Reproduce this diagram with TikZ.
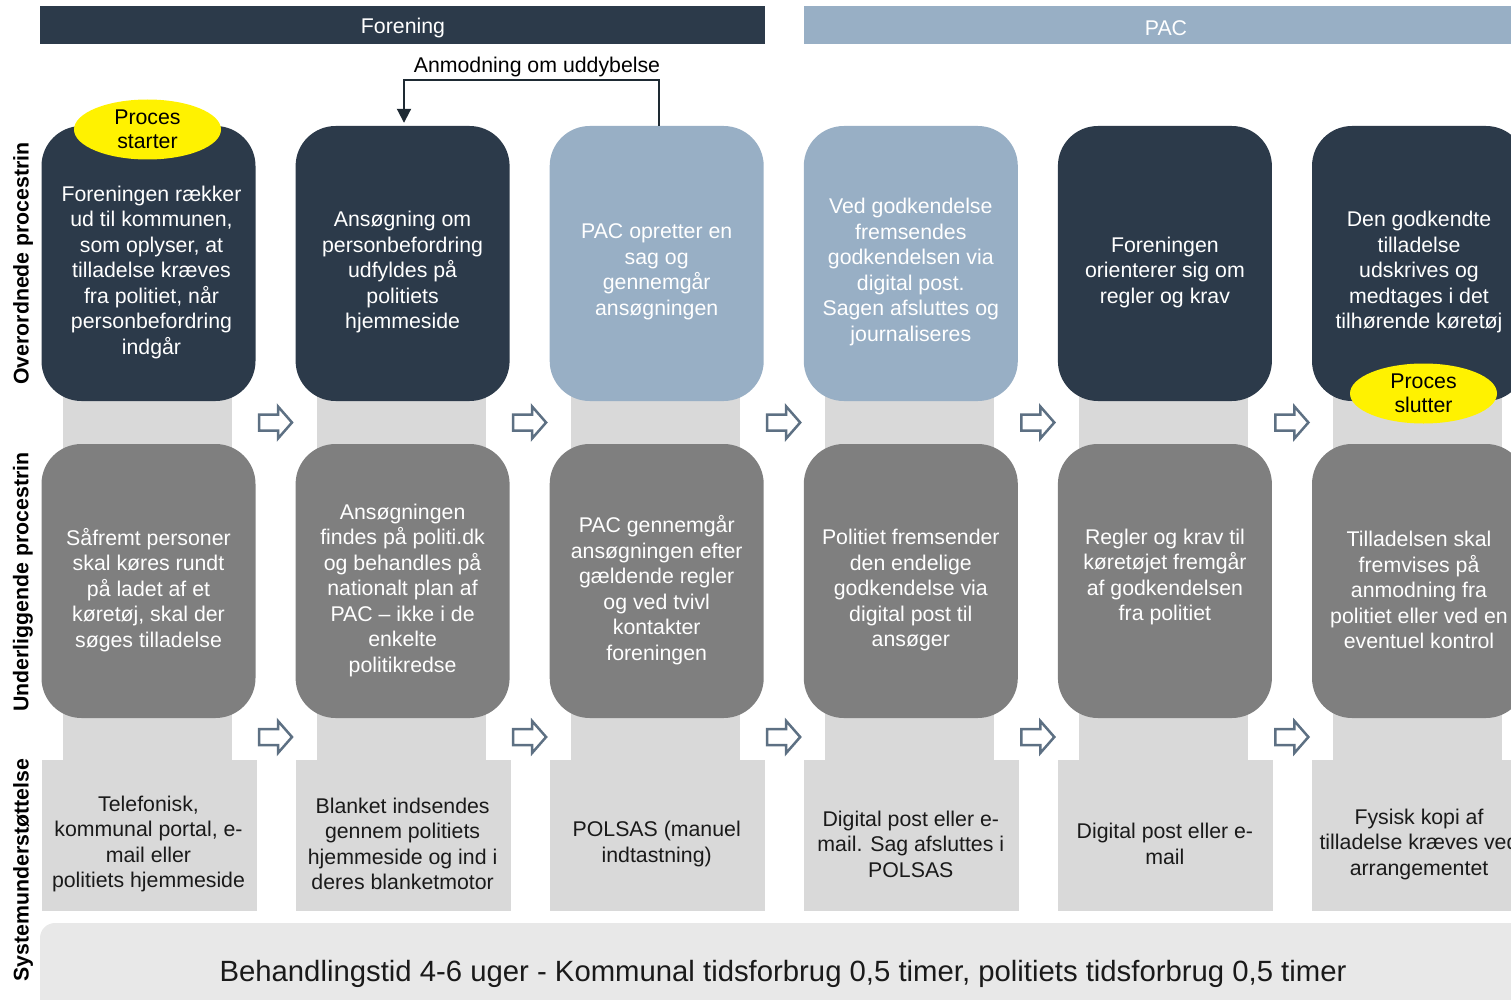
\documentclass[tikz,border=0pt]{standalone}
\usepackage{fontspec}
\setmainfont{Liberation Sans}
\usetikzlibrary{arrows.meta,shapes.geometric,calc}
\definecolor{navy}{RGB}{44,58,74}
\definecolor{lblue}{RGB}{152,175,197}
\definecolor{midgray}{RGB}{127,127,127}
\definecolor{lgray}{RGB}{217,217,217}
\definecolor{bargray}{RGB}{232,232,232}
\definecolor{arrowc}{RGB}{93,112,131}
\definecolor{txtdark}{RGB}{26,26,26}
\definecolor{linec}{RGB}{30,42,51}
\begin{document}
\begin{tikzpicture}[x=1pt,y=-1pt,
  boxbase/.style={rounded corners=40pt, minimum width=214pt, inner sep=0pt},
  topbox/.style={boxbase, minimum height=275pt, fill=navy},
  topboxl/.style={boxbase, minimum height=275pt, fill=lblue},
  midbox/.style={boxbase, minimum height=274pt, fill=midgray},
  botbox/.style={minimum width=215pt, minimum height=151pt, fill=lgray, inner sep=0pt},
  txt/.style={align=center, font=\fontsize{21.3}{25.5}\selectfont, inner sep=0pt, yshift=-2pt},
  wtxt/.style={txt, text=white},
  dtxt/.style={txt, text=txtdark},
  rowlbl/.style={rotate=90, font=\bfseries\fontsize{21.3}{25}\selectfont, inner sep=0pt},
  hdrtxt/.style={text=white, font=\fontsize{21.3}{25}\selectfont, inner sep=0pt, yshift=-2pt},
  oval/.style={ellipse, fill=yellow, minimum width=147pt, minimum height=60pt, inner sep=0pt, align=center, font=\fontsize{21.3}{24.5}\selectfont},
  blockarrow/.style={draw=arrowc, line width=2.5pt, fill=white, line join=miter}
]
\useasboundingbox (0,0) rectangle (1511,1000);
\clip (0,0) rectangle (1511,1000);

% headers
\fill[navy] (40,6) rectangle (765,44);
\node[hdrtxt] (hf) at (403,26) {Forening};
\fill[lblue] (804,6) rectangle (1530,44);
\node[hdrtxt] (hp) at (1166,26) {PAC};

% gray vertical bands
\foreach \i in {0,...,5} {
  \pgfmathsetmacro{\L}{41.5+254.1*\i}
  \fill[lgray] (\L+21,300) rectangle (\L+190,800);
}

% top boxes
\node[topbox]  (t1) at (148.5,263.5) {};
\node[topbox]  (t2) at (402.6,263.5) {};
\node[topboxl] (t3) at (656.7,263.5) {};
\node[topboxl] (t4) at (910.8,263.5) {};
\node[topbox]  (t5) at (1164.9,263.5) {};
\node[topbox]  (t6) at (1419,263.5) {};

\node[wtxt] (t1x) at (151.5,270) {Foreningen rækker\\ud til kommunen,\\som oplyser, at\\tilladelse kræves\\fra politiet, når\\personbefordring\\indgår};
\node[wtxt] (t2x) at (402.6,270) {Ansøgning om\\personbefordring\\udfyldes på\\politiets\\hjemmeside};
\node[wtxt] (t3x) at (656.7,270) {PAC opretter en\\sag og\\gennemgår\\ansøgningen};
\node[wtxt] (t4x) at (910.8,270) {Ved godkendelse\\fremsendes\\godkendelsen via\\digital post.\\Sagen afsluttes og\\journaliseres};
\node[wtxt] (t5x) at (1164.9,270) {Foreningen\\orienterer sig om\\regler og krav};
\node[wtxt] (t6x) at (1419,270) {Den godkendte\\tilladelse\\udskrives og\\medtages i det\\tilhørende køretøj};

% middle boxes
\node[midbox] (m1) at (148.5,581) {};
\node[midbox] (m2) at (402.6,581) {};
\node[midbox] (m3) at (656.7,581) {};
\node[midbox] (m4) at (910.8,581) {};
\node[midbox] (m5) at (1164.9,581) {};
\node[midbox] (m6) at (1419,581) {};

\node[wtxt] (m1x) at (148.5,588) {Såfremt personer\\skal køres rundt\\på ladet af et\\køretøj, skal der\\søges tilladelse};
\node[wtxt] (m2x) at (402.6,588) {Ansøgningen\\findes på politi.dk\\og behandles på\\nationalt plan af\\PAC – ikke i de\\enkelte\\politikredse};
\node[wtxt] (m3x) at (656.7,588) {PAC gennemgår\\ansøgningen efter\\gældende regler\\og ved tvivl\\kontakter\\foreningen};
\node[wtxt] (m4x) at (910.8,588) {Politiet fremsender\\den endelige\\godkendelse via\\digital post til\\ansøger};
\node[wtxt] (m5x) at (1164.9,575) {Regler og krav til\\køretøjet fremgår\\af godkendelsen\\fra politiet};
\node[wtxt] (m6x) at (1419,588) {Tilladelsen skal\\fremvises på\\anmodning fra\\politiet eller ved en\\eventuel kontrol};

% bottom boxes
\node[botbox] (b1) at (149,835.5) {};
\node[botbox] (b2) at (403.1,835.5) {};
\node[botbox] (b3) at (657.2,835.5) {};
\node[botbox] (b4) at (911.3,835.5) {};
\node[botbox] (b5) at (1165.4,835.5) {};
\node[botbox] (b6) at (1419.5,835.5) {};

\node[dtxt] (b1x) at (148.5,842) {Telefonisk,\\kommunal portal, e-\\mail eller\\politiets hjemmeside};
\node[dtxt] (b2x) at (402.6,842) {Blanket indsendes\\gennem politiets\\hjemmeside og ind i\\deres blanketmotor};
\node[dtxt] (b3x) at (656.7,842) {POLSAS (manuel\\indtastning)};
\node[dtxt] (b4x) at (910.8,842) {Digital post eller e-\\mail. Sag afsluttes i\\POLSAS};
\node[dtxt] (b5x) at (1164.9,842) {Digital post eller e-\\mail};
\node[dtxt] (b6x) at (1419,842) {Fysisk kopi af\\tilladelse kræves ved\\arrangementet};

% block arrows between columns
\foreach \i in {0,...,4} {
  \pgfmathsetmacro{\ax}{275+254.1*\i}
  \foreach \ay in {422.5,737} {
    \draw[blockarrow] (\ax-16,\ay-8) -- (\ax+3,\ay-8) -- (\ax+3,\ay-16) -- (\ax+17,\ay) -- (\ax+3,\ay+16) -- (\ax+3,\ay+8) -- (\ax-16,\ay+8) -- cycle;
  }
}

% ellipses
\node[oval] (start) at (147.5,129.5) {Proces\\starter};
\node[oval] (slut) at (1423.5,393.5) {Proces\\slutter};

% feedback arrow
\node[txt] (anm) at (537,65) {Anmodning om uddybelse};
\draw[linec, line width=2pt, -{Triangle[length=14pt,width=14pt]}]
  ($(t3.north)+(2,0)$) -- ++(0,-46) -| ($(t2.north)+(1.4,-3)$);

% row labels
\node[rowlbl] (r1) at (23,263.5) {Overordnede procestrin};
\node[rowlbl] (r2) at (23,582) {Underliggende procestrin};
\node[rowlbl] (r3) at (23,870) {Systemunderstøttelse};

% bottom bar
\fill[bargray, rounded corners=15pt] (40,923) rectangle (1540,1020);
\node[font=\fontsize{29.3}{32}\selectfont, text=txtdark, inner sep=0pt, yshift=-1pt] (bar) at (783,973) {Behandlingstid 4-6 uger - Kommunal tidsforbrug 0,5 timer, politiets tidsforbrug 0,5 timer};
\end{tikzpicture}
\end{document}
